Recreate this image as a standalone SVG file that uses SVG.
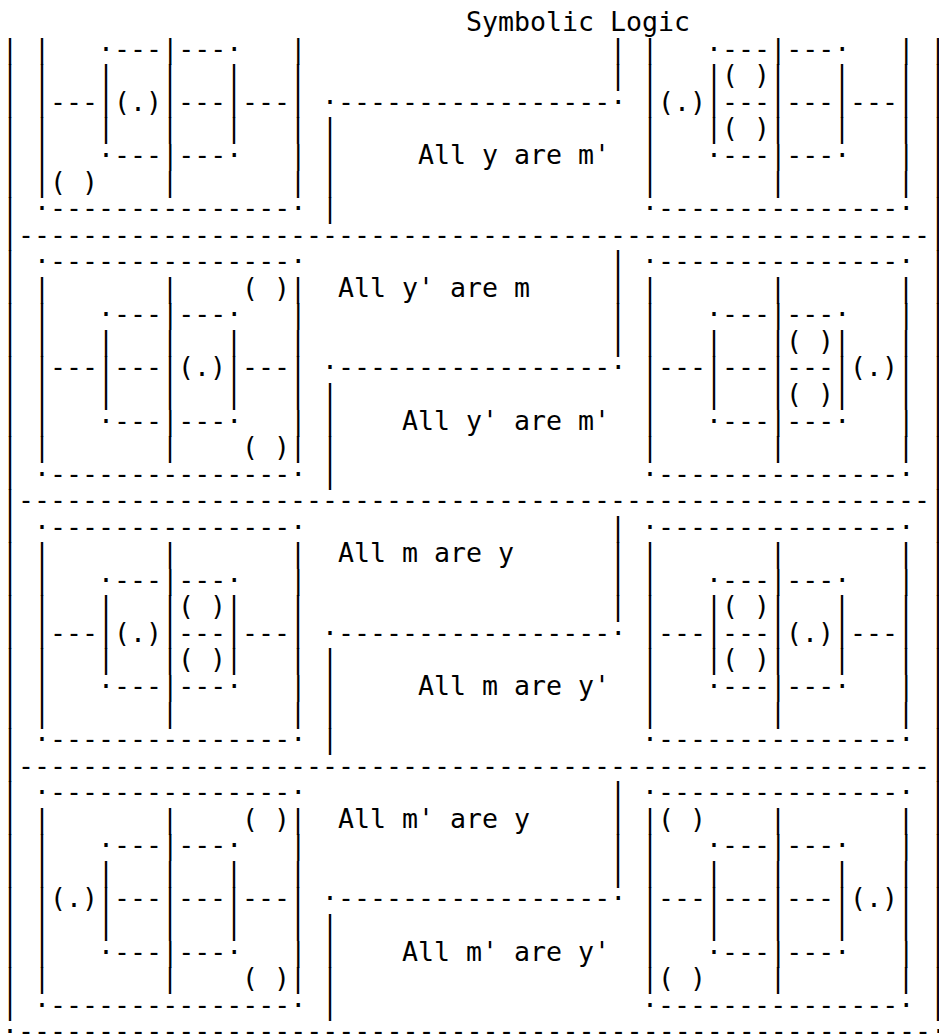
<svg xmlns="http://www.w3.org/2000/svg" width="939" height="1034" viewBox="0 0 939 1034" xml:space="preserve">
<style>
text{font-family:"DejaVu Sans Mono","Liberation Mono",monospace;font-size:26.58px;fill:#000;white-space:pre;}
</style>
<rect width="939" height="1034" fill="#fff"/>
<text id="title" x="466" y="31.25">Symbolic Logic</text>
<g id="frame">
<text x="2 930" y="57.8">||</text>
<text x="2 930" y="84.35">||</text>
<text x="2 930" y="110.9">||</text>
<text x="2 930" y="137.45">||</text>
<text x="2 930" y="164">||</text>
<text x="2 930" y="190.55">||</text>
<text x="2 930" y="217.1">||</text>
<text x="2" y="243.65">|---------------------------------------------------------|</text>
<text x="2 930" y="270.2">||</text>
<text x="2 930" y="296.75">||</text>
<text x="2 930" y="323.3">||</text>
<text x="2 930" y="349.85">||</text>
<text x="2 930" y="376.4">||</text>
<text x="2 930" y="402.95">||</text>
<text x="2 930" y="429.5">||</text>
<text x="2 930" y="456.05">||</text>
<text x="2 930" y="482.6">||</text>
<text x="2" y="509.15">|---------------------------------------------------------|</text>
<text x="2 930" y="535.7">||</text>
<text x="2 930" y="562.25">||</text>
<text x="2 930" y="588.8">||</text>
<text x="2 930" y="615.35">||</text>
<text x="2 930" y="641.9">||</text>
<text x="2 930" y="668.45">||</text>
<text x="2 930" y="695">||</text>
<text x="2 930" y="721.55">||</text>
<text x="2 930" y="748.1">||</text>
<text x="2" y="774.65">|---------------------------------------------------------|</text>
<text x="2 930" y="801.2">||</text>
<text x="2 930" y="827.75">||</text>
<text x="2 930" y="854.3">||</text>
<text x="2 930" y="880.85">||</text>
<text x="2 930" y="907.4">||</text>
<text x="2 930" y="933.95">||</text>
<text x="2 930" y="960.5">||</text>
<text x="2 930" y="987.05">||</text>
<text x="2 930" y="1013.6">||</text>
<text x="2" y="1040.15" dy="-7 7 0 0 0 0 0 0 0 0 0 0 0 0 0 0 0 0 0 0 0 0 0 0 0 0 0 0 0 0 0 0 0 0 0 0 0 0 0 0 0 0 0 0 0 0 0 0 0 0 0 0 0 0 0 0 0 0 -7">.---------------------------------------------------------.</text>
</g>
<g id="row1-left">
<text x="34" y="57.8" dy="0 0 0 0 -7 7 0 0 0 0 0 0 -7 7">|   .---|---.   |</text>
<text x="34" y="84.35">|   |   |   |   |</text>
<text x="34" y="110.9">|---|(.)|---|---|</text>
<text x="34" y="137.45">|   |   |   |   |</text>
<text x="34" y="164" dy="0 0 0 0 -7 7 0 0 0 0 0 0 -7 7">|   .---|---.   |</text>
<text x="34" y="190.55">|( )    |       |</text>
<text x="34" y="217.1" dy="-7 7 0 0 0 0 0 0 0 0 0 0 0 0 0 0 -7">.---------------.</text>
</g>
<g id="row1-middle">
<text x="610" y="57.8">|</text>
<text x="610" y="84.35">|</text>
<text x="322" y="110.9" dy="-7 7 0 0 0 0 0 0 0 0 0 0 0 0 0 0 0 0 -7">.-----------------.</text>
<text x="322" y="137.45">|</text>
<text x="322" y="164">|</text>
<text x="322" y="190.55">|</text>
<text x="322" y="217.1">|</text>
<text x="418" y="164">All y are m'</text>
</g>
<g id="row1-right">
<text x="642" y="57.8" dy="0 0 0 0 -7 7 0 0 0 0 0 0 -7 7">|   .---|---.   |</text>
<text x="642" y="84.35">|   |( )|   |   |</text>
<text x="642" y="110.9">|(.)|---|---|---|</text>
<text x="642" y="137.45">|   |( )|   |   |</text>
<text x="642" y="164" dy="0 0 0 0 -7 7 0 0 0 0 0 0 -7 7">|   .---|---.   |</text>
<text x="642" y="190.55">|       |       |</text>
<text x="642" y="217.1" dy="-7 7 0 0 0 0 0 0 0 0 0 0 0 0 0 0 -7">.---------------.</text>
</g>
<g id="row2-left">
<text x="34" y="270.2" dy="-7 7 0 0 0 0 0 0 0 0 0 0 0 0 0 0 -7">.---------------.</text>
<text x="34" y="296.75">|       |    ( )|</text>
<text x="34" y="323.3" dy="0 0 0 0 -7 7 0 0 0 0 0 0 -7 7">|   .---|---.   |</text>
<text x="34" y="349.85">|   |   |   |   |</text>
<text x="34" y="376.4">|---|---|(.)|---|</text>
<text x="34" y="402.95">|   |   |   |   |</text>
<text x="34" y="429.5" dy="0 0 0 0 -7 7 0 0 0 0 0 0 -7 7">|   .---|---.   |</text>
<text x="34" y="456.05">|       |    ( )|</text>
<text x="34" y="482.6" dy="-7 7 0 0 0 0 0 0 0 0 0 0 0 0 0 0 -7">.---------------.</text>
</g>
<g id="row2-middle">
<text x="610" y="270.2">|</text>
<text x="610" y="296.75">|</text>
<text x="610" y="323.3">|</text>
<text x="610" y="349.85">|</text>
<text x="322" y="376.4" dy="-7 7 0 0 0 0 0 0 0 0 0 0 0 0 0 0 0 0 -7">.-----------------.</text>
<text x="322" y="402.95">|</text>
<text x="322" y="429.5">|</text>
<text x="322" y="456.05">|</text>
<text x="322" y="482.6">|</text>
<text x="338" y="296.75">All y' are m</text>
<text x="402" y="429.5">All y' are m'</text>
</g>
<g id="row2-right">
<text x="642" y="270.2" dy="-7 7 0 0 0 0 0 0 0 0 0 0 0 0 0 0 -7">.---------------.</text>
<text x="642" y="296.75">|       |       |</text>
<text x="642" y="323.3" dy="0 0 0 0 -7 7 0 0 0 0 0 0 -7 7">|   .---|---.   |</text>
<text x="642" y="349.85">|   |   |( )|   |</text>
<text x="642" y="376.4">|---|---|---|(.)|</text>
<text x="642" y="402.95">|   |   |( )|   |</text>
<text x="642" y="429.5" dy="0 0 0 0 -7 7 0 0 0 0 0 0 -7 7">|   .---|---.   |</text>
<text x="642" y="456.05">|       |       |</text>
<text x="642" y="482.6" dy="-7 7 0 0 0 0 0 0 0 0 0 0 0 0 0 0 -7">.---------------.</text>
</g>
<g id="row3-left">
<text x="34" y="535.7" dy="-7 7 0 0 0 0 0 0 0 0 0 0 0 0 0 0 -7">.---------------.</text>
<text x="34" y="562.25">|       |       |</text>
<text x="34" y="588.8" dy="0 0 0 0 -7 7 0 0 0 0 0 0 -7 7">|   .---|---.   |</text>
<text x="34" y="615.35">|   |   |( )|   |</text>
<text x="34" y="641.9">|---|(.)|---|---|</text>
<text x="34" y="668.45">|   |   |( )|   |</text>
<text x="34" y="695" dy="0 0 0 0 -7 7 0 0 0 0 0 0 -7 7">|   .---|---.   |</text>
<text x="34" y="721.55">|       |       |</text>
<text x="34" y="748.1" dy="-7 7 0 0 0 0 0 0 0 0 0 0 0 0 0 0 -7">.---------------.</text>
</g>
<g id="row3-middle">
<text x="610" y="535.7">|</text>
<text x="610" y="562.25">|</text>
<text x="610" y="588.8">|</text>
<text x="610" y="615.35">|</text>
<text x="322" y="641.9" dy="-7 7 0 0 0 0 0 0 0 0 0 0 0 0 0 0 0 0 -7">.-----------------.</text>
<text x="322" y="668.45">|</text>
<text x="322" y="695">|</text>
<text x="322" y="721.55">|</text>
<text x="322" y="748.1">|</text>
<text x="338" y="562.25">All m are y</text>
<text x="418" y="695">All m are y'</text>
</g>
<g id="row3-right">
<text x="642" y="535.7" dy="-7 7 0 0 0 0 0 0 0 0 0 0 0 0 0 0 -7">.---------------.</text>
<text x="642" y="562.25">|       |       |</text>
<text x="642" y="588.8" dy="0 0 0 0 -7 7 0 0 0 0 0 0 -7 7">|   .---|---.   |</text>
<text x="642" y="615.35">|   |( )|   |   |</text>
<text x="642" y="641.9">|---|---|(.)|---|</text>
<text x="642" y="668.45">|   |( )|   |   |</text>
<text x="642" y="695" dy="0 0 0 0 -7 7 0 0 0 0 0 0 -7 7">|   .---|---.   |</text>
<text x="642" y="721.55">|       |       |</text>
<text x="642" y="748.1" dy="-7 7 0 0 0 0 0 0 0 0 0 0 0 0 0 0 -7">.---------------.</text>
</g>
<g id="row4-left">
<text x="34" y="801.2" dy="-7 7 0 0 0 0 0 0 0 0 0 0 0 0 0 0 -7">.---------------.</text>
<text x="34" y="827.75">|       |    ( )|</text>
<text x="34" y="854.3" dy="0 0 0 0 -7 7 0 0 0 0 0 0 -7 7">|   .---|---.   |</text>
<text x="34" y="880.85">|   |   |   |   |</text>
<text x="34" y="907.4">|(.)|---|---|---|</text>
<text x="34" y="933.95">|   |   |   |   |</text>
<text x="34" y="960.5" dy="0 0 0 0 -7 7 0 0 0 0 0 0 -7 7">|   .---|---.   |</text>
<text x="34" y="987.05">|       |    ( )|</text>
<text x="34" y="1013.6" dy="-7 7 0 0 0 0 0 0 0 0 0 0 0 0 0 0 -7">.---------------.</text>
</g>
<g id="row4-middle">
<text x="610" y="801.2">|</text>
<text x="610" y="827.75">|</text>
<text x="610" y="854.3">|</text>
<text x="610" y="880.85">|</text>
<text x="322" y="907.4" dy="-7 7 0 0 0 0 0 0 0 0 0 0 0 0 0 0 0 0 -7">.-----------------.</text>
<text x="322" y="933.95">|</text>
<text x="322" y="960.5">|</text>
<text x="322" y="987.05">|</text>
<text x="322" y="1013.6">|</text>
<text x="338" y="827.75">All m' are y</text>
<text x="402" y="960.5">All m' are y'</text>
</g>
<g id="row4-right">
<text x="642" y="801.2" dy="-7 7 0 0 0 0 0 0 0 0 0 0 0 0 0 0 -7">.---------------.</text>
<text x="642" y="827.75">|( )    |       |</text>
<text x="642" y="854.3" dy="0 0 0 0 -7 7 0 0 0 0 0 0 -7 7">|   .---|---.   |</text>
<text x="642" y="880.85">|   |   |   |   |</text>
<text x="642" y="907.4">|---|---|---|(.)|</text>
<text x="642" y="933.95">|   |   |   |   |</text>
<text x="642" y="960.5" dy="0 0 0 0 -7 7 0 0 0 0 0 0 -7 7">|   .---|---.   |</text>
<text x="642" y="987.05">|( )    |       |</text>
<text x="642" y="1013.6" dy="-7 7 0 0 0 0 0 0 0 0 0 0 0 0 0 0 -7">.---------------.</text>
</g>
</svg>
